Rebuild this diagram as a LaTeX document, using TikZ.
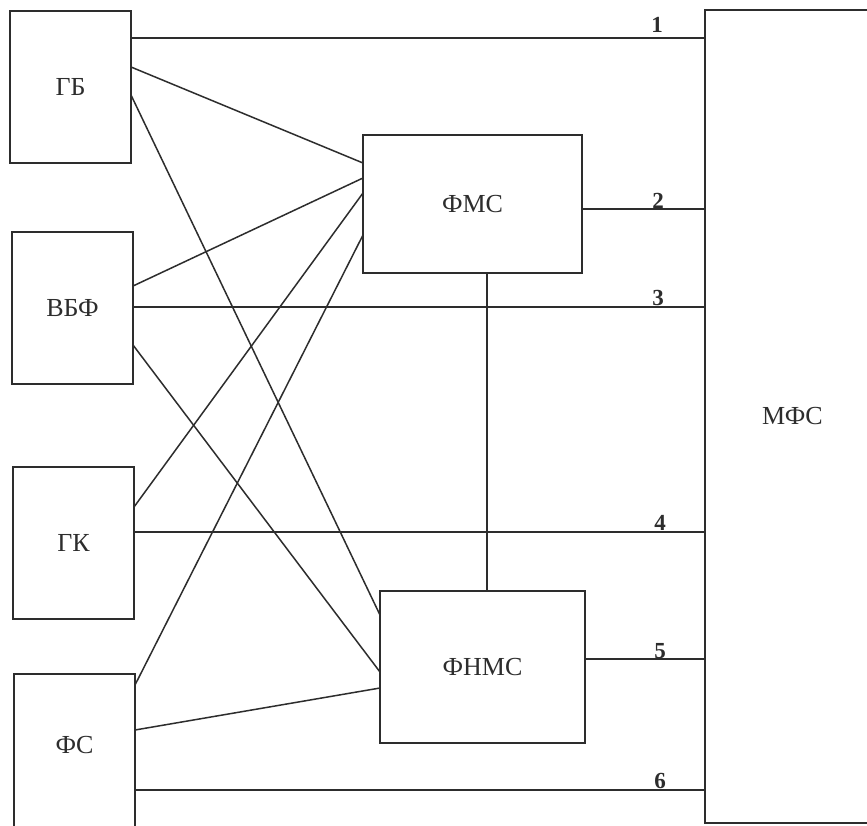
\documentclass[tikz,border=0pt]{standalone}
\usepackage{fontspec}
\setmainfont{Liberation Serif}
\definecolor{ink}{RGB}{45,45,45}
\begin{document}
\begin{tikzpicture}[x=1pt,y=-1pt,
  box/.style={draw=ink,line width=1.5pt,rectangle,inner sep=0pt,outer sep=0pt,
    text=ink,font=\fontsize{26}{30}\selectfont},
  num/.style={anchor=base,inner sep=0pt,text=ink,font=\fontsize{23}{26}\selectfont\bfseries},
  link/.style={draw=ink,line width=1.5pt}]
\useasboundingbox (0,0) rectangle (867,825);
\clip (0,0) rectangle (867,825);
\fill[white] (0,0) rectangle (867,825);
% boxes
\node[box,minimum width=121pt,minimum height=152pt] (GB) at (70.5,87) {ГБ};
\node[box,minimum width=121pt,minimum height=152pt] (VBF) at (72.5,308) {ВБФ};
\node[box,minimum width=121pt,minimum height=152pt] (GK) at (73.5,543) {ГК};
\node[box,minimum width=121pt,minimum height=170pt,
  label={[text=ink,font=\fontsize{26}{30}\selectfont,yshift=14pt]center:ФС}] (FS) at (74.5,759) {};
\node[box,minimum width=219pt,minimum height=138pt] (FMS) at (472.5,204) {ФМС};
\node[box,minimum width=205pt,minimum height=152pt] (FNMS) at (482.5,667) {ФНМС};
\node[box,minimum width=175pt,minimum height=813pt] (MFS) at (792.5,416.5) {МФС};
% connection points
\coordinate (c1) at ([yshift=-27pt]GB.north east);
\coordinate (c2) at ([yshift=-74pt]FMS.north east);
\coordinate (c3) at ([yshift=-75pt]VBF.north east);
\coordinate (c4) at ([yshift=-65pt]GK.north east);
\coordinate (c5) at ([yshift=-68pt]FNMS.north east);
\coordinate (c6) at ([yshift=-116pt]FS.north east);
% horizontal lines to MFS
\draw[link] (c1) -- (c1 -| MFS.west);
\draw[link] (c2) -- (c2 -| MFS.west);
\draw[link] (c3) -- (c3 -| MFS.west);
\draw[link] (c4) -- (c4 -| MFS.west);
\draw[link] (c5) -- (c5 -| MFS.west);
\draw[link] (c6) -- (c6 -| MFS.west);
% numbers
\node[num] (n1) at (657,32) {1};
\node[num] (n2) at (658,208) {2};
\node[num] (n3) at (658,305) {3};
\node[num] (n4) at (660,530) {4};
\node[num] (n5) at (660,658) {5};
\node[num] (n6) at (660,788) {6};
% diagonal links
\draw[link] ([yshift=-56pt]GB.north east) -- ([yshift=-28pt]FMS.north west);
\draw[link] ([yshift=-84pt]GB.north east) -- ([yshift=-24pt]FNMS.north west);
\draw[link] ([yshift=-54pt]VBF.north east) -- ([yshift=-43pt]FMS.north west);
\draw[link] ([yshift=-113pt]VBF.north east) -- ([yshift=-81pt]FNMS.north west);
\draw[link] ([yshift=-40pt]GK.north east) -- ([yshift=-58pt]FMS.north west);
\draw[link] ([yshift=-11pt]FS.north east) -- ([yshift=-100pt]FMS.north west);
\draw[link] ([yshift=-56pt]FS.north east) -- ([yshift=-97pt]FNMS.north west);
% vertical link FMS - FNMS
\coordinate (v1) at ([xshift=14.5pt]FMS.south);
\draw[link] (v1) -- (v1 |- FNMS.north);
\end{tikzpicture}
\end{document}
